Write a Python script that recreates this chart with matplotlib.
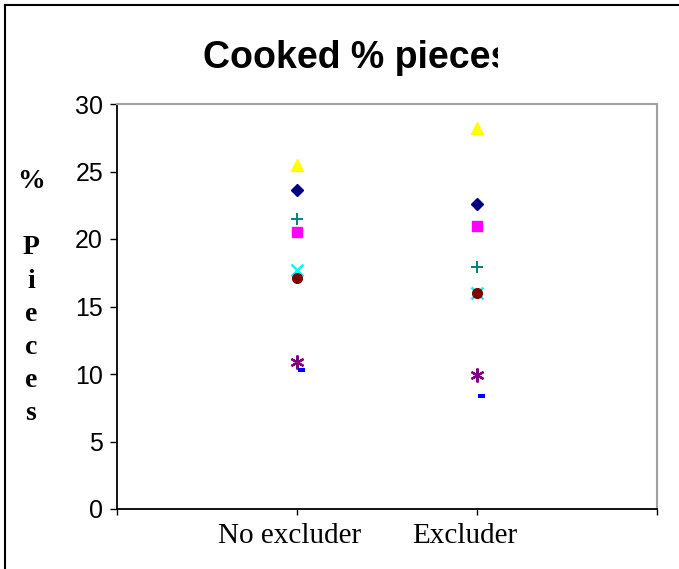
import numpy as np
import matplotlib
matplotlib.use('Agg')
import matplotlib.pyplot as plt
from matplotlib.path import Path
from matplotlib.transforms import Bbox, TransformedBbox, ScaledTranslation
from matplotlib.lines import Line2D

categories = ['No excluder', 'Excluder']
cat_x = [1, 2]

# series in Excel default order
diamond = [23.6, 22.6]
square = [20.5, 21.0]
triangle = [25.5, 28.2]
cross = [17.7, 16.0]
star = [10.9, 9.9]
circle = [17.1, 16.0]
plus = [21.5, 17.9]
dash = [10.3, 8.4]

y_ticks = [0, 5, 10, 15, 20, 25, 30]

W, H = 679, 569
fig = plt.figure(figsize=(W / 100, H / 100), dpi=100)
ax = fig.add_axes([117 / W, 1 - 509 / H, (657 - 117) / W, (509 - 104) / H])

dash_marker = Path([(0.1, -0.3), (1, -0.3), (1, 0.3), (0.1, 0.3), (0.1, -0.3)],
                   [Path.MOVETO, Path.LINETO, Path.LINETO, Path.LINETO, Path.CLOSEPOLY])

ax.plot(cat_x, diamond, ls='none', marker='D', ms=6.5, color='#000080')
ax.plot(cat_x, square, ls='none', marker='s', ms=7, color='#FF00FF')
ax.plot(cat_x, triangle, ls='none', marker='^', ms=8.5, color='#FFFF00')
ax.plot(cat_x, cross, ls='none', marker='x', ms=8, mew=1.8, color='#00FFFF')
ax.plot(cat_x, star, ls='none', marker=(6, 2, 0), ms=10, mew=1.6, color='#800080')
ax.plot(cat_x, circle, ls='none', marker='o', ms=7, color='#800000')
ax.plot(cat_x, plus, ls='none', marker='+', ms=8, mew=1.4, color='#008080')
ax.plot(cat_x, dash, ls='none', marker=dash_marker, ms=11, mew=0, color='#0000FF')

ax.set_xlim(0, 3)
ax.set_ylim(0, 30)
ax.set_yticks(y_ticks)
ax.set_yticklabels([str(v) for v in y_ticks], fontsize=18, family='Liberation Sans')
ax.set_xticks([0, 1, 2, 3])
ax.set_xticklabels([''] + categories + [''], fontsize=21, family='Liberation Serif')
ax.tick_params(axis='y', direction='out', length=5, width=1, pad=5)
ax.tick_params(axis='x', direction='out', length=4, width=1, pad=6)

# Excel puts the category labels a little left of the tick
shifts = [0, -7, -12, 0]
for lab, dx in zip(ax.get_xticklabels(), shifts):
    lab.set_transform(lab.get_transform() + ScaledTranslation(dx / 100, 0, fig.dpi_scale_trans))

for s in ['left', 'bottom']:
    ax.spines[s].set_color('black')
    ax.spines[s].set_linewidth(1.3)
for s in ['top', 'right']:
    ax.spines[s].set_color('#A0A0A0')
    ax.spines[s].set_linewidth(1.5)

title = fig.text(203 / W, 1 - 68 / H, 'Cooked % pieces', fontsize=27, fontweight='bold',
                 family='Liberation Sans', ha='left', va='baseline')
title.set_clip_box(TransformedBbox(Bbox([[0, 0], [498 / W, 1]]), fig.transFigure))
title.set_clip_on(True)

fig.text(31 / W, 1 - 169 / H, '%\n\nP\ni\ne\nc\ne\ns', fontsize=20, fontweight='bold',
         family='Liberation Serif', ha='center', va='top', ma='center', linespacing=1.43)

# chart area frame (left and top only visible)
fig.add_artist(Line2D([5 / W, 5 / W], [0, 1 - 5 / H], color='black', lw=1.5,
                      transform=fig.transFigure))
fig.add_artist(Line2D([5 / W, 1], [1 - 5 / H, 1 - 5 / H], color='black', lw=1.5,
                      transform=fig.transFigure))

fig.savefig('out.png', dpi=100)
